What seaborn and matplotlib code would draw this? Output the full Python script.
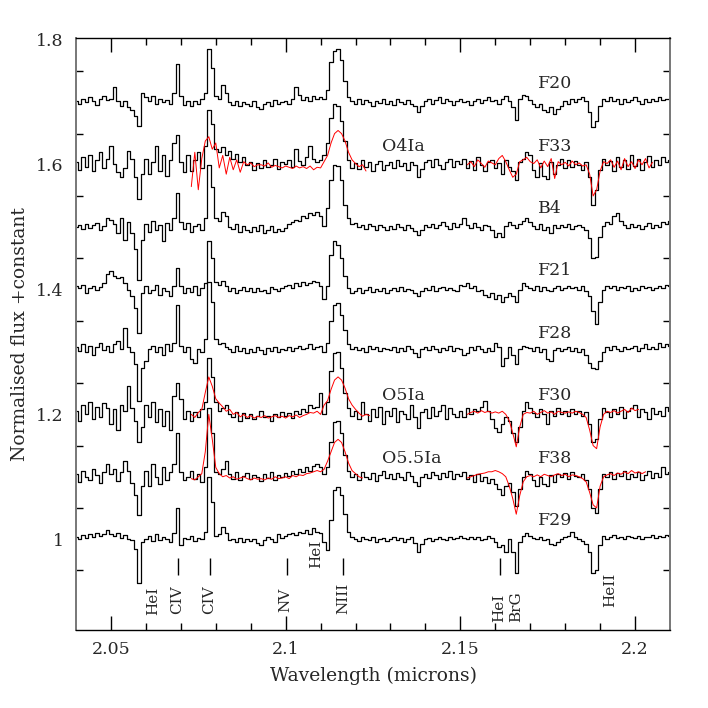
import numpy as np
import matplotlib
matplotlib.use("Agg")
import matplotlib.pyplot as plt
import seaborn as sns
from matplotlib.ticker import FixedLocator

# ---------------- data ----------------
wavelength = [
    2.040, 2.041, 2.042, 2.043, 2.044, 2.045, 2.046, 2.047, 2.048, 2.049,
    2.050, 2.051, 2.052, 2.053, 2.054, 2.055, 2.056, 2.057, 2.058, 2.059,
    2.060, 2.061, 2.062, 2.063, 2.064, 2.065, 2.066, 2.067, 2.068, 2.069,
    2.070, 2.071, 2.072, 2.073, 2.074, 2.075, 2.076, 2.077, 2.078, 2.079,
    2.080, 2.081, 2.082, 2.083, 2.084, 2.085, 2.086, 2.087, 2.088, 2.089,
    2.090, 2.091, 2.092, 2.093, 2.094, 2.095, 2.096, 2.097, 2.098, 2.099,
    2.100, 2.101, 2.102, 2.103, 2.104, 2.105, 2.106, 2.107, 2.108, 2.109,
    2.110, 2.111, 2.112, 2.113, 2.114, 2.115, 2.116, 2.117, 2.118, 2.119,
    2.120, 2.121, 2.122, 2.123, 2.124, 2.125, 2.126, 2.127, 2.128, 2.129,
    2.130, 2.131, 2.132, 2.133, 2.134, 2.135, 2.136, 2.137, 2.138, 2.139,
    2.140, 2.141, 2.142, 2.143, 2.144, 2.145, 2.146, 2.147, 2.148, 2.149,
    2.150, 2.151, 2.152, 2.153, 2.154, 2.155, 2.156, 2.157, 2.158, 2.159,
    2.160, 2.161, 2.162, 2.163, 2.164, 2.165, 2.166, 2.167, 2.168, 2.169,
    2.170, 2.171, 2.172, 2.173, 2.174, 2.175, 2.176, 2.177, 2.178, 2.179,
    2.180, 2.181, 2.182, 2.183, 2.184, 2.185, 2.186, 2.187, 2.188, 2.189,
    2.190, 2.191, 2.192, 2.193, 2.194, 2.195, 2.196, 2.197, 2.198, 2.199,
    2.200, 2.201, 2.202, 2.203, 2.204, 2.205, 2.206, 2.207, 2.208, 2.209, 2.210,
]

flux_F20 = [
    1.003, 0.998, 1.006, 1.001, 1.008, 1.002, 0.996, 1.005, 1.010, 1.004,
    1.005, 1.025, 1.002, 0.995, 1.003, 0.992, 0.988, 0.978, 0.962, 1.015,
    1.008, 1.002, 1.010, 0.998, 1.006, 1.000, 1.004, 0.997, 1.015, 1.062,
    1.010, 0.996, 1.003, 0.994, 1.002, 0.997, 1.005, 1.015, 1.085, 1.055,
    1.010, 1.005, 1.028, 1.015, 1.000, 0.996, 1.002, 0.994, 1.000, 0.997,
    0.995, 1.002, 0.992, 0.990, 0.997, 1.000, 0.994, 1.004, 0.998, 1.001,
    1.003, 0.998, 1.006, 1.024, 1.012, 1.004, 1.008, 1.003, 1.010, 1.006,
    1.008, 1.005, 1.020, 1.065, 1.082, 1.085, 1.068, 1.035, 1.008, 1.002,
    0.997, 1.005, 0.998, 1.004, 1.000, 0.994, 1.003, 0.999, 1.005, 0.997,
    1.002, 0.996, 1.005, 1.000, 0.997, 1.004, 0.998, 0.994, 0.985, 0.995,
    1.003, 1.006, 0.998, 1.004, 1.008, 0.999, 1.005, 1.002, 0.996, 1.003,
    1.006, 1.000, 1.003, 0.996, 1.002, 1.005, 0.999, 1.004, 1.008, 1.002,
    1.004, 0.998, 1.006, 1.010, 1.002, 0.992, 0.972, 1.005, 1.012, 1.010,
    1.004, 0.997, 0.992, 0.998, 0.988, 0.984, 0.992, 0.982, 0.990, 0.995,
    1.003, 0.998, 1.006, 1.000, 1.005, 1.008, 1.002, 0.985, 0.960, 0.970,
    0.995, 1.006, 1.003, 1.008, 1.002, 1.005, 0.998, 1.006, 1.001, 1.004,
    1.008, 1.003, 0.998, 1.005, 1.000, 1.006, 1.002, 1.008, 1.004, 1.006, 1.005,
]

flux_F33 = [
    1.005, 0.992, 1.012, 0.997, 1.015, 0.990, 1.008, 1.020, 0.995, 1.010,
    1.030, 1.002, 0.988, 0.980, 0.995, 1.022, 1.010, 0.980, 0.945, 0.985,
    1.010, 0.985, 1.005, 1.030, 0.990, 1.015, 0.982, 1.008, 1.035, 1.048,
    1.005, 0.988, 1.015, 0.990, 1.008, 1.020, 0.995, 1.030, 1.088, 1.065,
    1.025, 1.020, 1.028, 1.015, 1.022, 1.010, 1.018, 1.005, 1.012, 1.000,
    1.005, 0.992, 1.003, 0.995, 1.008, 0.997, 1.000, 1.010, 0.994, 1.004,
    1.002, 1.008, 0.996, 1.025, 1.006, 1.000, 1.012, 1.030, 1.010, 1.005,
    1.008, 1.015, 1.035, 1.075, 1.098, 1.095, 1.070, 1.038, 1.008, 0.995,
    1.003, 0.994, 1.008, 0.997, 1.005, 0.990, 1.002, 1.006, 0.992, 1.000,
    1.004, 0.995, 1.007, 0.998, 1.003, 0.992, 1.005, 1.000, 0.980, 0.994,
    1.005, 1.008, 0.997, 1.010, 1.000, 0.994, 1.004, 1.009, 0.996, 1.006,
    1.002, 1.010, 0.995, 1.006, 0.992, 1.012, 1.000, 0.990, 1.005, 1.008,
    0.995, 1.003, 0.985, 1.008, 0.997, 0.990, 0.975, 1.005, 1.010, 1.020,
    1.015, 0.992, 0.980, 1.003, 0.982, 0.978, 1.005, 0.985, 1.000, 1.010,
    0.995, 1.008, 0.997, 1.006, 1.000, 0.992, 1.005, 0.980, 0.935, 0.960,
    0.992, 1.010, 1.000, 1.006, 0.990, 1.012, 0.997, 1.008, 0.994, 1.015,
    0.998, 1.010, 0.992, 1.005, 1.014, 0.996, 1.008, 1.000, 1.012, 1.005, 1.008,
]

flux_B4 = [
    1.000, 1.004, 0.997, 1.005, 0.998, 1.003, 1.006, 0.996, 1.002, 1.015,
    1.012, 1.005, 0.990, 1.015, 0.980, 1.008, 0.990, 0.965, 0.915, 0.980,
    1.005, 0.992, 1.010, 0.995, 1.003, 0.978, 1.006, 0.996, 1.015, 1.055,
    1.008, 0.997, 1.006, 0.992, 1.002, 1.005, 0.995, 1.015, 1.100, 1.065,
    1.015, 1.010, 1.025, 1.018, 1.000, 0.997, 1.005, 0.992, 1.002, 0.995,
    0.992, 1.000, 0.994, 1.003, 0.990, 0.996, 1.002, 0.993, 0.997, 0.994,
    0.998, 1.005, 1.008, 1.012, 1.010, 1.018, 1.015, 1.022, 1.020, 1.025,
    1.018, 1.002, 1.030, 1.075, 1.100, 1.098, 1.075, 1.035, 1.015, 1.005,
    1.006, 1.000, 1.004, 0.997, 1.005, 1.002, 0.996, 1.003, 1.000, 0.995,
    1.002, 0.997, 1.005, 1.000, 0.996, 1.003, 0.998, 0.994, 0.987, 0.996,
    1.003, 1.000, 1.005, 0.998, 1.004, 1.008, 1.002, 0.997, 1.006, 1.000,
    1.005, 1.015, 1.003, 0.998, 1.006, 1.000, 0.996, 1.004, 1.002, 0.995,
    0.985, 0.990, 0.985, 1.002, 1.008, 1.003, 0.998, 1.005, 1.010, 1.015,
    1.008, 1.002, 0.997, 1.005, 0.996, 1.000, 0.990, 1.004, 0.998, 1.003,
    1.000, 1.005, 0.997, 1.002, 1.004, 1.000, 0.995, 0.982, 0.950, 0.952,
    0.985, 1.002, 1.008, 1.005, 1.018, 1.022, 1.010, 1.003, 0.998, 1.005,
    1.000, 1.004, 0.997, 1.002, 1.006, 0.998, 1.004, 1.000, 1.008, 1.005, 1.010,
]

flux_F21 = [
    1.005, 1.002, 1.008, 0.995, 1.003, 1.006, 1.000, 1.004, 1.010, 1.025,
    1.030, 1.022, 1.018, 1.020, 1.010, 1.000, 0.990, 0.970, 0.930, 0.995,
    1.005, 0.995, 1.000, 1.008, 0.992, 1.003, 0.998, 0.990, 1.005, 1.035,
    1.005, 0.994, 1.002, 0.996, 1.005, 0.992, 1.003, 1.010, 1.078, 1.050,
    1.012, 1.008, 1.014, 1.005, 0.998, 1.003, 0.995, 1.000, 1.004, 0.997,
    1.002, 0.996, 1.003, 0.998, 1.000, 0.995, 1.004, 1.001, 0.997, 1.002,
    1.005, 1.008, 1.003, 1.010, 1.006, 1.012, 1.008, 1.010, 1.014, 1.012,
    1.005, 0.985, 1.005, 1.055, 1.078, 1.072, 1.050, 1.022, 1.002, 0.995,
    0.997, 1.002, 0.994, 1.000, 1.004, 0.996, 1.001, 0.998, 1.003, 0.995,
    1.000, 1.003, 0.998, 1.004, 0.997, 1.001, 1.000, 0.995, 0.990, 0.998,
    1.003, 1.000, 1.005, 0.998, 1.002, 1.004, 0.999, 1.003, 1.000, 0.997,
    1.008, 1.005, 1.010, 1.003, 1.006, 0.998, 1.000, 0.992, 0.988, 0.995,
    0.985, 0.992, 0.980, 0.988, 0.995, 0.990, 0.980, 1.000, 1.010, 1.005,
    1.003, 1.000, 1.005, 0.998, 1.004, 1.000, 0.997, 1.002, 1.005, 1.000,
    1.003, 1.006, 1.002, 1.004, 1.000, 1.005, 0.998, 0.990, 0.965, 0.945,
    0.980, 1.000, 1.005, 1.003, 1.006, 1.000, 1.004, 1.002, 1.005, 0.998,
    1.003, 1.000, 1.005, 1.002, 1.004, 0.999, 1.003, 1.006, 1.002, 1.008, 1.005,
]

flux_F28 = [
    1.008, 1.002, 1.012, 1.000, 1.010, 0.995, 1.008, 1.015, 1.003, 1.010,
    1.000, 1.012, 1.018, 1.005, 1.038, 1.008, 1.000, 0.980, 0.922, 0.975,
    0.985, 1.005, 1.010, 1.000, 1.008, 0.995, 1.012, 1.002, 1.015, 1.075,
    1.010, 1.000, 1.008, 0.988, 0.982, 1.005, 1.000, 1.020, 1.112, 1.080,
    1.020, 1.012, 1.015, 1.008, 1.005, 1.000, 1.010, 1.002, 1.006, 0.998,
    1.005, 1.000, 1.008, 1.003, 0.997, 1.006, 1.002, 1.008, 1.000, 1.005,
    1.003, 1.008, 1.002, 1.006, 1.010, 1.004, 1.007, 1.012, 1.005, 1.008,
    1.010, 1.000, 1.015, 1.050, 1.075, 1.078, 1.060, 1.035, 1.012, 1.005,
    1.008, 1.003, 1.006, 1.000, 1.010, 1.004, 1.008, 1.002, 1.006, 1.005,
    1.003, 1.008, 1.000, 1.006, 1.002, 1.010, 1.004, 0.998, 0.992, 1.005,
    1.008, 1.003, 1.010, 1.005, 1.000, 1.007, 1.003, 1.009, 1.002, 1.006,
    1.004, 0.995, 0.998, 1.008, 1.003, 1.010, 1.005, 1.000, 1.006, 1.002,
    1.015, 1.008, 0.978, 0.990, 1.008, 0.995, 0.980, 1.005, 1.010, 1.008,
    1.006, 1.002, 1.008, 1.000, 1.004, 0.988, 0.985, 1.003, 1.006, 1.002,
    1.005, 1.008, 1.002, 1.006, 1.000, 1.004, 0.995, 0.982, 0.975, 0.972,
    0.985, 1.000, 1.008, 1.003, 1.010, 1.005, 1.002, 1.008, 1.004, 1.006,
    1.010, 1.002, 1.006, 1.012, 1.004, 1.008, 1.005, 1.014, 1.008, 1.012, 1.010,
]

flux_F30 = [
    1.005, 0.990, 1.015, 1.000, 1.020, 0.992, 1.012, 0.995, 1.018, 1.010,
    0.985, 1.008, 0.975, 1.015, 1.005, 1.045, 1.010, 0.990, 0.955, 0.980,
    1.015, 0.995, 1.020, 0.988, 1.008, 0.982, 1.005, 0.975, 1.030, 1.050,
    1.025, 0.992, 1.005, 0.990, 1.003, 0.995, 1.008, 1.020, 1.090, 1.060,
    1.020, 1.005, 1.010, 1.015, 1.000, 0.995, 1.003, 0.990, 1.002, 0.994,
    1.000, 0.992, 0.997, 1.005, 0.995, 0.998, 0.990, 1.000, 0.996, 1.003,
    0.997, 1.002, 0.994, 1.005, 1.000, 1.008, 1.003, 1.015, 1.010, 1.012,
    1.035, 1.000, 1.020, 1.070, 1.098, 1.100, 1.075, 1.035, 1.010, 0.997,
    1.005, 0.992, 1.020, 1.000, 0.990, 1.008, 0.995, 1.012, 0.985, 1.005,
    0.997, 1.010, 0.988, 1.006, 1.000, 0.992, 1.015, 0.995, 0.978, 1.003,
    1.008, 0.994, 1.012, 0.997, 1.005, 1.015, 0.992, 1.010, 1.000, 0.995,
    1.006, 0.996, 1.010, 1.000, 1.008, 1.005, 1.012, 1.022, 1.005, 0.992,
    0.978, 0.972, 0.985, 0.995, 0.990, 0.970, 0.955, 0.980, 1.005, 1.020,
    1.010, 1.002, 0.995, 1.008, 1.000, 0.985, 1.005, 0.997, 1.010, 1.000,
    1.006, 0.997, 1.008, 1.000, 1.005, 0.998, 1.003, 0.985, 0.955, 0.960,
    0.992, 1.010, 1.003, 0.995, 1.008, 1.000, 1.012, 0.994, 1.005, 1.010,
    1.015, 0.995, 1.008, 1.003, 0.992, 1.010, 1.000, 1.006, 0.997, 1.012, 1.005,
]

flux_F38 = [
    1.005, 0.992, 1.010, 1.000, 0.995, 1.012, 1.003, 0.990, 1.008, 1.020,
    1.005, 1.012, 0.994, 1.008, 1.025, 1.010, 0.990, 0.970, 0.938, 0.985,
    1.010, 0.985, 1.020, 1.000, 0.988, 1.015, 0.995, 1.008, 1.020, 1.070,
    1.008, 0.995, 1.000, 1.010, 0.997, 1.005, 0.992, 1.015, 1.110, 1.070,
    1.008, 1.005, 1.012, 1.025, 1.005, 0.997, 1.008, 0.995, 1.002, 1.006,
    0.996, 1.003, 1.000, 0.994, 1.005, 0.998, 1.008, 0.995, 1.003, 1.000,
    1.006, 1.002, 1.010, 1.004, 1.012, 1.008, 1.015, 1.010, 1.018, 1.020,
    1.015, 1.005, 1.015, 1.055, 1.088, 1.090, 1.070, 1.035, 1.010, 1.000,
    1.005, 0.995, 1.008, 1.000, 0.997, 1.006, 0.994, 1.003, 1.010, 0.998,
    1.004, 0.997, 1.006, 1.000, 0.995, 1.008, 1.002, 0.992, 0.985, 1.000,
    1.005, 0.998, 1.008, 1.003, 0.996, 1.006, 1.000, 1.010, 0.997, 1.005,
    1.002, 1.008, 0.996, 1.003, 0.992, 1.005, 0.994, 1.000, 0.990, 0.997,
    0.988, 0.980, 0.970, 0.985, 0.990, 0.975, 0.953, 0.980, 1.000, 1.010,
    1.005, 0.995, 0.985, 1.000, 0.988, 0.985, 1.003, 0.992, 1.005, 1.000,
    1.006, 0.997, 1.008, 1.002, 1.000, 1.005, 0.995, 0.980, 0.950, 0.942,
    0.980, 1.005, 1.000, 1.008, 0.996, 1.006, 1.002, 1.010, 0.997, 1.005,
    1.000, 1.008, 0.995, 1.003, 1.010, 0.998, 1.006, 1.000, 1.015, 1.004, 1.008,
]

flux_F29 = [
    1.003, 1.000, 1.006, 1.002, 1.008, 1.004, 1.010, 1.005, 1.008, 1.015,
    1.008, 1.005, 1.010, 1.002, 1.006, 1.000, 0.998, 0.985, 0.930, 0.995,
    1.000, 1.005, 0.997, 1.008, 0.998, 1.004, 1.000, 0.995, 1.010, 1.050,
    0.990, 1.002, 1.000, 1.005, 0.997, 1.002, 1.000, 1.012, 1.100, 1.060,
    1.005, 1.008, 1.020, 1.010, 0.998, 1.000, 0.995, 1.002, 0.996, 1.000,
    0.997, 1.000, 0.994, 0.990, 0.998, 1.003, 1.000, 0.996, 1.008, 1.002,
    1.005, 1.008, 1.010, 1.006, 1.012, 1.010, 1.014, 1.008, 1.018, 1.012,
    1.010, 0.995, 0.982, 1.030, 1.078, 1.083, 1.070, 1.040, 1.012, 1.003,
    1.000, 0.997, 1.004, 1.000, 0.998, 1.003, 0.996, 1.000, 1.002, 0.997,
    1.000, 1.003, 0.998, 1.002, 0.996, 1.000, 1.003, 0.994, 0.980, 0.992,
    1.000, 1.002, 0.997, 1.000, 1.003, 1.000, 0.998, 1.004, 1.000, 1.002,
    1.005, 1.002, 1.000, 1.004, 1.000, 1.003, 0.998, 1.000, 1.005, 1.002,
    0.995, 0.988, 0.990, 0.980, 1.000, 0.980, 0.945, 0.995, 1.005, 1.010,
    1.005, 1.002, 1.000, 1.003, 0.998, 1.000, 0.992, 0.990, 0.995, 1.000,
    1.003, 1.005, 1.012, 1.004, 1.000, 0.997, 0.992, 0.980, 0.945, 0.950,
    0.990, 1.005, 1.000, 1.003, 1.006, 1.002, 1.004, 1.000, 1.005, 1.003,
    1.002, 1.005, 1.000, 1.004, 1.003, 1.006, 1.002, 1.005, 1.004, 1.006, 1.005,
]

# red comparison spectra: (first wavelength index, values)
red_O4Ia_a_start = 33
red_O4Ia_a = [
    0.965, 1.020, 0.960, 1.010, 1.038, 1.045, 1.025, 1.035, 0.995, 1.015,
    0.985, 1.012, 0.992, 1.008, 0.988, 1.005, 1.000, 1.003, 0.997, 1.000,
    1.000, 0.998, 1.003, 0.996, 0.999, 0.997, 0.995, 0.998, 0.996, 0.994,
    0.998, 0.995, 0.997, 0.994, 0.998, 0.992, 0.996, 0.995, 1.005, 1.015,
    1.035, 1.050, 1.055, 1.050, 1.038, 1.020, 1.008, 1.002, 0.997, 1.000,
    0.990,
]
red_O4Ia_b_start = 112
red_O4Ia_b = [
    1.000, 1.005, 0.997, 1.008, 1.002, 0.996, 1.006, 1.003, 1.000, 1.010,
    1.015, 1.005, 0.992, 0.980, 0.985, 1.005, 1.008, 1.012, 1.005, 1.002,
    1.008, 0.995, 1.006, 0.997, 1.010, 0.978, 1.005, 1.000, 1.004, 0.998,
    1.006, 1.000, 1.003, 0.998, 1.000, 0.985, 0.950, 0.960, 0.990, 1.005,
    1.002, 1.008, 0.996, 1.006, 0.992, 1.010, 0.997, 1.005, 0.994, 1.008,
    1.000, 1.010, 0.995, 1.004,
]
red_O5Ia_a_start = 33
red_O5Ia_a = [
    1.000, 0.995, 1.003, 1.008, 1.035, 1.060, 1.045, 1.025, 1.018, 1.012,
    1.005, 1.008, 1.000, 1.003, 0.996, 1.000, 0.995, 0.998, 0.994, 0.997,
    0.995, 0.998, 0.994, 0.996, 0.998, 0.995, 0.997, 0.994, 0.998, 0.996,
    0.999, 0.995, 0.998, 1.000, 1.003, 1.002, 1.005, 1.000, 1.015, 1.022,
    1.040, 1.055, 1.060, 1.055, 1.042, 1.025, 1.015, 1.008, 1.002, 0.997,
    1.000, 0.998,
]
red_O5Ia_b_start = 112
red_O5Ia_b = [
    1.000, 1.003, 1.005, 1.002, 1.006, 1.003, 1.005, 1.002, 1.004, 1.002,
    1.005, 1.000, 0.990, 0.970, 0.948, 0.980, 1.000, 1.003, 1.002, 1.005,
    1.000, 1.003, 1.006, 1.002, 1.004, 1.000, 1.005, 1.003, 1.002, 1.004,
    1.002, 1.005, 1.003, 1.000, 0.995, 0.975, 0.950, 0.945, 0.980, 1.000,
    1.005, 1.003, 1.006, 1.002, 1.005, 1.008, 1.003, 1.010, 1.006, 1.008,
]
red_O55Ia_a_start = 33
red_O55Ia_a = [
    0.997, 0.995, 1.000, 1.005, 1.040, 1.100, 1.060, 1.015, 1.005, 1.000,
    1.002, 0.998, 1.000, 0.996, 0.998, 1.000, 0.997, 0.995, 0.998, 0.996,
    0.997, 0.995, 0.998, 0.996, 1.000, 0.997, 0.998, 1.000, 0.997, 1.002,
    1.000, 1.003, 1.002, 1.005, 1.006, 1.008, 1.010, 1.008, 1.012, 1.025,
    1.040, 1.055, 1.060, 1.055, 1.040, 1.022, 1.010, 1.005, 1.000, 0.998,
]
red_O55Ia_b_start = 112
red_O55Ia_b = [
    0.998, 1.000, 1.002, 1.004, 1.005, 1.006, 1.008, 1.008, 1.010, 1.008,
    1.005, 1.000, 0.985, 0.965, 0.940, 0.970, 0.992, 1.000, 1.002, 1.000,
    1.003, 1.000, 1.004, 1.002, 1.000, 1.003, 1.005, 1.002, 1.004, 1.000,
    1.003, 1.002, 1.000, 0.997, 0.992, 0.975, 0.955, 0.950, 0.985, 1.000,
    1.003, 1.005, 1.002, 1.006, 1.004, 1.008, 1.005, 1.010, 1.006, 1.008,
    1.005, 1.008,
]

star_names = ["F20", "F33", "B4", "F21", "F28", "F30", "F38", "F29"]
star_flux = [flux_F20, flux_F33, flux_B4, flux_F21, flux_F28, flux_F30, flux_F38, flux_F29]
star_offset = [0.7, 0.6, 0.5, 0.4, 0.3, 0.2, 0.1, 0.0]

comp_names = ["O4Ia", "O5Ia", "O5.5Ia"]
comp_offset = [0.6, 0.2, 0.1]
comp_segments = [
    [(red_O4Ia_a_start, red_O4Ia_a), (red_O4Ia_b_start, red_O4Ia_b)],
    [(red_O5Ia_a_start, red_O5Ia_a), (red_O5Ia_b_start, red_O5Ia_b)],
    [(red_O55Ia_a_start, red_O55Ia_a), (red_O55Ia_b_start, red_O55Ia_b)],
]

# line identifications
id_text = ["HeI", "CIV", "CIV", "NV", "HeI", "NIII", "HeI", "BrG", "HeII"]
id_text_wave = [2.0620, 2.0688, 2.0780, 2.1000, 2.1087, 2.1164, 2.1611, 2.1659, 2.1930]
id_text_base = [0.878, 0.880, 0.880, 0.883, 0.954, 0.880, 0.867, 0.867, 0.891]
id_tick_wave = [2.0691, 2.0784, 2.1003, 2.1163, 2.1614]

x_ticks = [2.05, 2.10, 2.15, 2.20]
x_tick_labels = ["2.05", "2.1", "2.15", "2.2"]
x_minor = [2.05, 2.06, 2.07, 2.08, 2.09, 2.10, 2.11, 2.12, 2.13, 2.14,
           2.15, 2.16, 2.17, 2.18, 2.19, 2.20]
y_ticks = [1.0, 1.2, 1.4, 1.6, 1.8]
y_tick_labels = ["1", "1.2", "1.4", "1.6", "1.8"]
y_minor = [0.95, 1.05, 1.15, 1.25, 1.35, 1.45, 1.55, 1.65, 1.75]

# ---------------- plot ----------------
sns.set_theme(style="white")
plt.rcParams["font.family"] = ["DejaVu Serif"]

fig = plt.figure(figsize=(7.08, 7.08), dpi=100)
ax = fig.add_axes([76 / 708, 78 / 708, 594 / 708, 592 / 708])

wl = np.array(wavelength)
for name, flux, off in zip(star_names, star_flux, star_offset):
    sns.lineplot(x=wl, y=np.array(flux) + off, ax=ax, color="black", lw=0.9,
                 drawstyle="steps-mid", estimator=None, sort=False, legend=False)

for segs, off in zip(comp_segments, comp_offset):
    for start, vals in segs:
        xs = wl[start:start + len(vals)]
        sns.lineplot(x=xs, y=np.array(vals) + off, ax=ax, color="red", lw=0.7,
                     estimator=None, sort=False, legend=False)

label_x_star = 2.1722
label_x_comp = 2.1276
for name, off in zip(star_names, star_offset):
    ax.text(label_x_star, 1.0 + off + 0.03, name, ha="left", va="center", fontsize=12.5)
for name, off in zip(comp_names, comp_offset):
    ax.text(label_x_comp, 1.0 + off + 0.03, name, ha="left", va="center", fontsize=12.5)

for t, xw, yb in zip(id_text, id_text_wave, id_text_base):
    ax.text(xw, yb, t, rotation=90, ha="center", va="bottom", fontsize=11)
ax.vlines(id_tick_wave, 0.9424, 0.9696, color="black", lw=1.0)

ax.set_xlim(2.04, 2.21)
ax.set_ylim(0.8544, 1.8032)
ax.xaxis.set_major_locator(FixedLocator(x_ticks))
ax.set_xticklabels(x_tick_labels)
ax.xaxis.set_minor_locator(FixedLocator(x_minor))
ax.yaxis.set_major_locator(FixedLocator(y_ticks))
ax.set_yticklabels(y_tick_labels)
ax.yaxis.set_minor_locator(FixedLocator(y_minor))

ax.tick_params(axis="x", which="both", direction="in", top=True, bottom=True,
               color="black", labelsize=12.5, pad=8)
ax.tick_params(axis="x", which="major", length=10, width=1)
ax.tick_params(axis="x", which="minor", length=5, width=1)
ax.tick_params(axis="y", which="major", length=0, labelsize=12.5, pad=9, left=True, right=False)
ax.tick_params(axis="y", which="minor", direction="in", length=5, width=1,
               left=True, right=True, color="black")

for side in ["top", "bottom"]:
    ax.spines[side].set_color("black")
    ax.spines[side].set_linewidth(1.0)
for side in ["left", "right"]:
    ax.spines[side].set_color("#777777")
    ax.spines[side].set_linewidth(1.4)

ax.set_xlabel("Wavelength (microns)", fontsize=13.5, labelpad=6)
ax.set_ylabel("Normalised flux +constant", fontsize=13.5, labelpad=5)
ax.grid(False)

fig.savefig("out.png", dpi=100)
